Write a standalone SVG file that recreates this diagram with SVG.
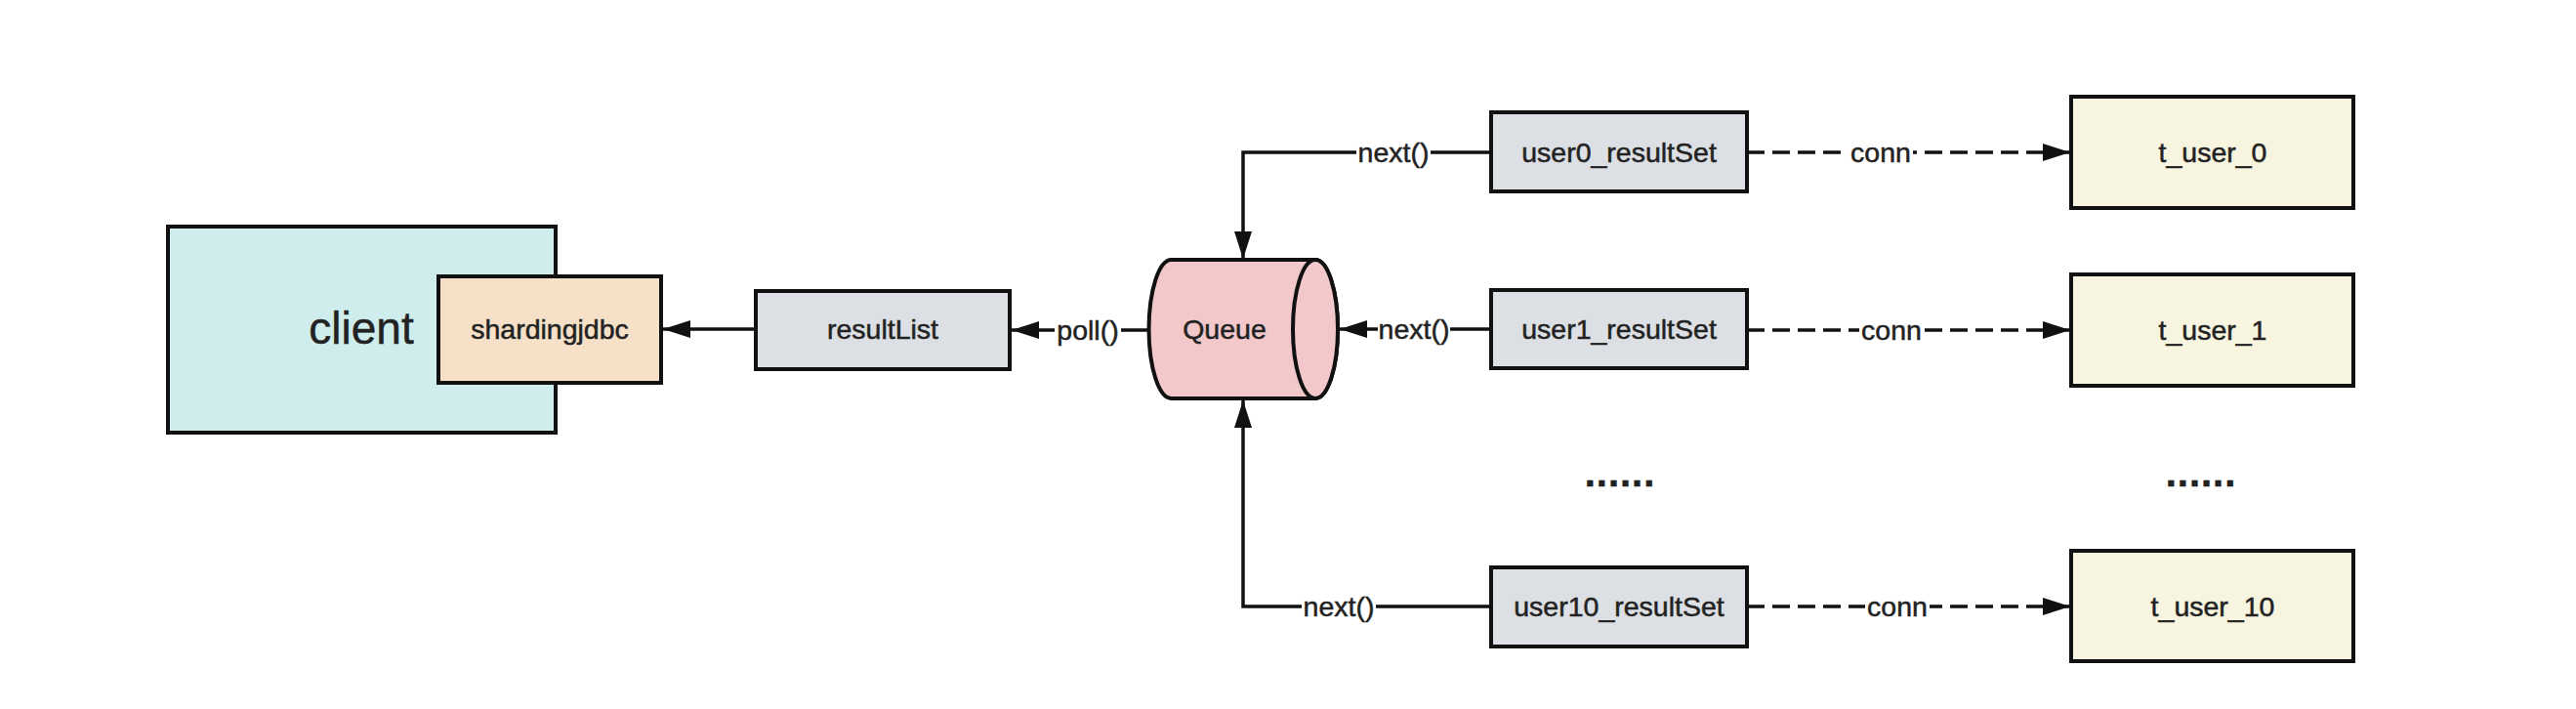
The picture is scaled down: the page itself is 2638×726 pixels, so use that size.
<svg xmlns="http://www.w3.org/2000/svg" width="2638" height="726" viewBox="0 0 2638 726">
<style>
text{font-family:"Liberation Sans",Arial,Helvetica,sans-serif;fill:#222;stroke:#222;stroke-width:0.5;text-anchor:middle}
.box{stroke:#111;stroke-width:4}
.lbl{font-size:28.5px}
.big{font-size:46px}
.line{fill:none;stroke:#111;stroke-width:3.5}
.dash{fill:none;stroke:#111;stroke-width:3.5;stroke-dasharray:18 8}
.bg{fill:#fff}
.dots{font-size:40px;font-weight:bold;letter-spacing:1px}
</style>
<defs>
<marker id="arr" markerUnits="userSpaceOnUse" markerWidth="28" markerHeight="18" refX="28" refY="9" orient="auto">
<path d="M0,0 L28,9 L0,18 Z" fill="#111"/>
</marker>
</defs>
<rect width="2638" height="726" fill="#fff"/>

<g id="client">
<rect class="box" x="172" y="232" width="397" height="211" fill="#cfeded"/>
<text class="big" x="370" y="352">client</text>
</g>
<g id="shardingjdbc">
<rect class="box" x="449" y="283" width="228" height="109" fill="#f6e1c8"/>
<text class="lbl" x="563" y="347">shardingjdbc</text>
</g>
<g id="resultList">
<rect class="box" x="774" y="298" width="260" height="80" fill="#dcdfe3"/>
<text class="lbl" x="904" y="347">resultList</text>
</g>
<g id="queue">
<path class="box" d="M1199.5,266 L1347,266 A23,71 0 0 1 1347,408 L1199.5,408 A23,71 0 0 1 1199.5,266 Z" fill="#f2c8ca"/>
<ellipse class="box" cx="1347" cy="337" rx="23" ry="71" fill="#f2c8ca"/>
<text class="lbl" x="1254" y="347">Queue</text>
</g>
<g id="user0_resultSet">
<rect class="box" x="1527" y="115" width="262" height="81" fill="#dcdfe3"/>
<text class="lbl" x="1658" y="166">user0_resultSet</text>
</g>
<g id="user1_resultSet">
<rect class="box" x="1527" y="297" width="262" height="80" fill="#dcdfe3"/>
<text class="lbl" x="1658" y="347">user1_resultSet</text>
</g>
<g id="user10_resultSet">
<rect class="box" x="1527" y="581" width="262" height="81" fill="#dcdfe3"/>
<text class="lbl" x="1658" y="631">user10_resultSet</text>
</g>
<g id="t_user_0">
<rect class="box" x="2121" y="99" width="289" height="114" fill="#f7f5e0"/>
<text class="lbl" x="2266" y="166">t_user_0</text>
</g>
<g id="t_user_1">
<rect class="box" x="2121" y="281" width="289" height="114" fill="#f7f5e0"/>
<text class="lbl" x="2266" y="348">t_user_1</text>
</g>
<g id="t_user_10">
<rect class="box" x="2121" y="564" width="289" height="113" fill="#f7f5e0"/>
<text class="lbl" x="2266" y="631">t_user_10</text>
</g>
<g id="ellipsis">
<text class="dots" x="1659" y="498">......</text>
<text class="dots" x="2254" y="498">......</text>
</g>

<g id="connectors">
<path class="line" d="M774,337 L679,337" marker-end="url(#arr)"/>
<path class="line" d="M1176,338 L1036,338" marker-end="url(#arr)"/>
<rect class="bg" x="1080" y="322" width="68" height="34"/>
<text class="lbl" x="1114" y="348">poll()</text>

<path class="line" d="M1527,337 L1372,337" marker-end="url(#arr)"/>
<rect class="bg" x="1411" y="321" width="74" height="34"/>
<text class="lbl" x="1448" y="347">next()</text>

<path class="line" d="M1527,156 L1273,156 L1273,265" marker-end="url(#arr)"/>
<rect class="bg" x="1389" y="140" width="76" height="34"/>
<text class="lbl" x="1427" y="166">next()</text>

<path class="line" d="M1527,621 L1273,621 L1273,410" marker-end="url(#arr)"/>
<rect class="bg" x="1333" y="605" width="76" height="34"/>
<text class="lbl" x="1371" y="631">next()</text>

<path class="dash" d="M1789,156 L2120,156" marker-end="url(#arr)"/>
<rect class="bg" x="1893" y="140" width="66" height="34"/>
<text class="lbl" x="1926" y="166">conn</text>

<path class="dash" d="M1789,338 L2120,338" marker-end="url(#arr)"/>
<rect class="bg" x="1904" y="322" width="66" height="34"/>
<text class="lbl" x="1937" y="348">conn</text>

<path class="dash" d="M1789,621 L2120,621" marker-end="url(#arr)"/>
<rect class="bg" x="1910" y="605" width="66" height="34"/>
<text class="lbl" x="1943" y="631">conn</text>
</g>
</svg>
